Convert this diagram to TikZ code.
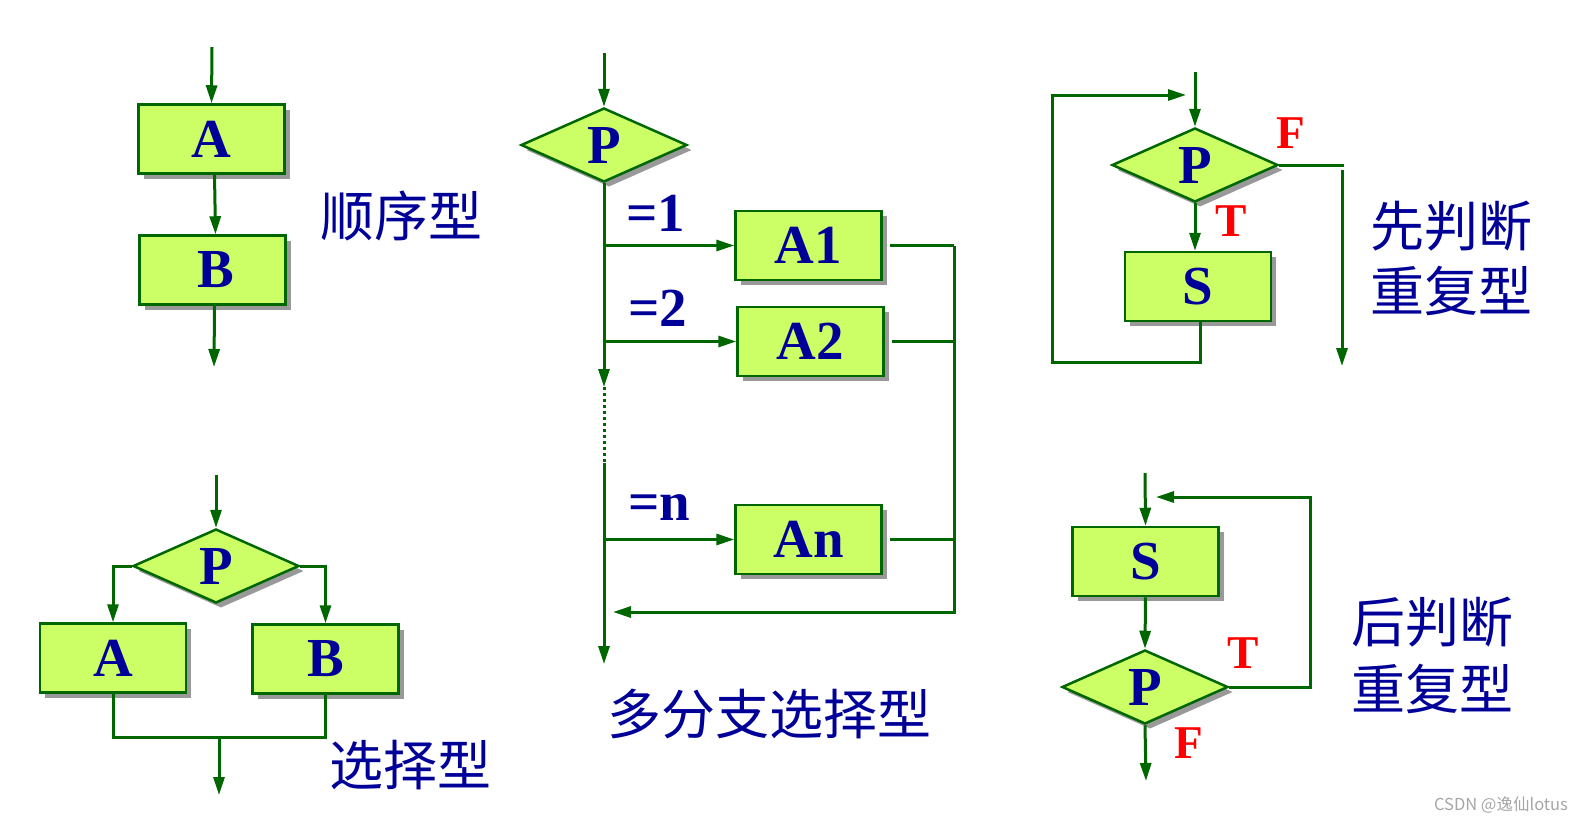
\documentclass[tikz,border=0pt]{standalone}
\usepackage{fontspec}
\setmainfont{Liberation Serif}
\newfontfamily\cjk{Noto Sans CJK SC}
\usetikzlibrary{shapes.geometric,shadows,arrows.meta}
\definecolor{lgreen}{HTML}{006600}
\definecolor{boxfill}{HTML}{CCFF66}
\definecolor{navy}{HTML}{000099}
\tikzset{
  x=1pt,y=-1pt,
  shade/.style={drop shadow={shadow xshift=5pt,shadow yshift=-5pt,fill=black!40,opacity=1}},
  stepbox/.style={rectangle,draw=lgreen,line width=2.5pt,fill=boxfill,shade,minimum width=146pt,minimum height=69pt,inner sep=0pt,
    text=navy,font=\bfseries\fontsize{55}{55}\selectfont},
  decide/.style={diamond,draw=lgreen,line width=2.5pt,fill=boxfill,shade,minimum width=166pt,minimum height=74pt,inner sep=0pt,aspect=2.2,
    text=navy,font=\bfseries\fontsize{55}{55}\selectfont},
  wire/.style={draw=lgreen,line width=3pt},
  arr/.style={wire,-{Triangle[length=18pt,width=11pt]}},
  cond/.style={text=navy,font=\bfseries\fontsize{55}{55}\selectfont,inner sep=0pt},
  tf/.style={text=red,font=\bfseries\fontsize{47}{47}\selectfont,inner sep=0pt},
  title/.style={text=navy,font=\cjk\fontsize{54}{54}\selectfont,inner sep=0pt}
}
\begin{document}
\begin{tikzpicture}
\useasboundingbox (0,0) rectangle (1583,823);
% ---------- sequence ----------
\coordinate (s0) at (212,47);
\coordinate (s3) at (214,367);
\node[stepbox] (sa) at (211.5,139) {A};
\node[stepbox] (sb) at (212.5,270) {\hspace*{6pt}B};
\draw[arr] (s0) -- (sa.north);
\draw[arr] ([xshift=3pt]sa.south) -- ([xshift=3pt]sb.north);
\draw[arr] ([xshift=2pt]sb.south) -- (s3);
\node[title] (t1) at (401,216) {顺序型};
% ---------- selection ----------
\coordinate (c0) at (216,475);
\coordinate (cy) at (0,737);
\coordinate (c1) at (219,739);
\coordinate (c2) at (219,795);
\node[decide] (cp) at (216,566) {P};
\node[stepbox] (ca) at (113,658) {A};
\node[stepbox] (cb) at (325.5,659) {B};
\draw[arr] (c0) -- (cp.north);
\draw[arr] (cp.west) -| (ca.north);
\draw[arr] (cp.east) -| (cb.north);
\draw[wire] (ca.south) -- (ca.south |- cy) -| (cb.south);
\draw[arr] (c1) -- (c2);
\node[title] (t2) at (410,765) {选择型};
% ---------- multi-branch ----------
\coordinate (m0) at (604,53);
\coordinate (md1) at (604,387);
\coordinate (md2) at (604,463);
\coordinate (mend) at (604,664);
\coordinate (mr) at (954,0);
\coordinate (mb) at (613,612);
\node[decide] (mp) at (604,145) {P};
\node[stepbox] (m1) at (808.5,245.5) {A1};
\node[stepbox] (m2) at (810.5,341.5) {A2};
\node[stepbox] (mn) at (808.5,539.5) {An};
\draw[arr] (m0) -- (mp.north);
\draw[arr] (mp.south) -- (md1);
\draw[wire,dash pattern=on 3pt off 3pt] (md1) -- (md2);
\draw[arr] (md2) -- (mend);
\draw[arr] (mp.south |- m1.west) -- (m1.west);
\draw[arr] (mp.south |- m2.west) -- (m2.west);
\draw[arr] (mp.south |- mn.west) -- (mn.west);
\draw[wire] ([xshift=7pt]m1.east) -- (m1.east -| mr);
\draw[wire] ([xshift=7pt]m2.east) -- (m2.east -| mr);
\draw[wire] ([xshift=7pt]mn.east) -- (mn.east -| mr);
\draw[arr] (m1.east -| mr) -- (mr |- mb) -- (mb);
\node[cond] (l1) at (656,213) {=1};
\node[cond] (l2) at (658,308) {=2};
\node[cond] (ln) at (659,508) {=n};
\node[title] (t3) at (769,714) {多分支选择型};
% ---------- pre-test loop ----------
\coordinate (w0) at (1195,72);
\coordinate (wf) at (1344,165);
\coordinate (wf1) at (1342,170);
\coordinate (wf2) at (1342,366);
\coordinate (wl) at (1052,362);
\coordinate (wa) at (1186,95);
\node[decide] (wp) at (1195,165) {P};
\node[stepbox] (ws) at (1198,286.5) {S};
\draw[arr] (w0) -- (wp.north);
\draw[arr] (wp.south) -- (wp.south |- ws.north);
\draw[wire] (wp.east) -- (wf);
\draw[arr] (wf1) -- (wf2);
\draw[arr] ([xshift=2pt]ws.south) -- ([xshift=2pt]ws.south |- wl) -- (wl) -- (wl |- wa) -- (wa);
\node[tf] (wF) at (1291,133) {F};
\node[tf] (wT) at (1231,221) {T};
\node[title] (t4) at (1451,226) {先判断};
\node[title] (t5) at (1451,291) {重复型};
% ---------- post-test loop ----------
\coordinate (p0) at (1145,473);
\coordinate (pr) at (1310,0);
\coordinate (pa) at (1156,497);
\coordinate (pe) at (1146,781);
\node[stepbox] (ps) at (1145.5,561.5) {S};
\node[decide] (pp) at (1145,687) {P};
\draw[arr] (p0) -- (ps.north);
\draw[arr] (ps.south) -- (pp.north);
\draw[arr] (pp.east) -- (pp.east -| pr) -- (pr |- pa) -- (pa);
\draw[arr] (pp.south) -- (pe);
\node[tf] (pT) at (1243,653) {T};
\node[tf] (pF) at (1189,743) {F};
\node[title] (t6) at (1432,622) {后判断};
\node[title] (t7) at (1432,689) {重复型};
% ---------- watermark ----------
\node[text=black!35,font=\cjk\fontsize{16.5}{16.5}\selectfont,inner sep=0pt] (wm) at (1501,805) {CSDN @逸仙lotus};
\end{tikzpicture}
\end{document}
